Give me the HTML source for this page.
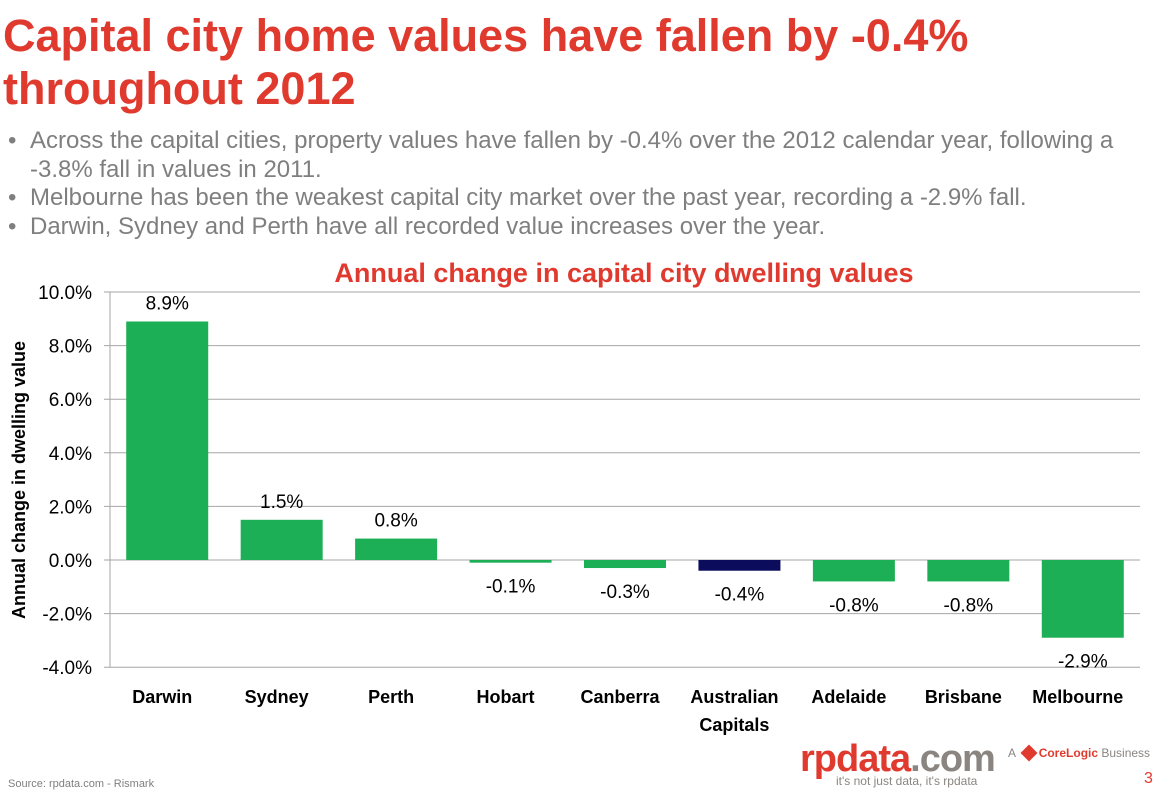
<!DOCTYPE html>
<html><head><meta charset="utf-8"><style>
body{margin:0;width:1163px;height:793px;background:#fff;font-family:"Liberation Sans",sans-serif;position:relative;overflow:hidden}
.t{position:absolute;left:3px;top:9px;color:#e03a2f;font-size:45px;font-weight:bold;line-height:53px}
ul{position:absolute;left:8px;top:127px;margin:0;padding:0;list-style:none;color:#7f7f7f;font-size:24px;line-height:28.5px}
li{padding-left:22px;position:relative}li:before{content:"•";position:absolute;left:0}
</style></head><body>
<div class="t">Capital city home values have fallen by -0.4%<br>throughout 2012</div>
<ul>
<li>Across the capital cities, property values have fallen by -0.4% over the 2012 calendar year, following a<br>-3.8% fall in values in 2011.</li>
<li>Melbourne has been the weakest capital city market over the past year, recording a -2.9% fall.</li>
<li>Darwin, Sydney and Perth have all recorded value increases over the year.</li>
</ul>
<svg id="c" width="1163" height="793" style="position:absolute;left:0;top:0"></svg>
<div style="position:absolute;left:8px;top:778px;font-size:11px;color:#7f7f7f">Source:  rpdata.com - Rismark</div>
<div style="position:absolute;left:800px;top:738px;font-size:38px;font-weight:bold;color:#e03a2f;letter-spacing:-1px">rpdata<span style="color:#8a8580">.com</span></div>
<div style="position:absolute;left:836px;top:774px;font-size:12px;color:#8a8580">it's not just data, it's rpdata</div>
<div style="position:absolute;left:1008px;top:746px;font-size:12px;color:#8a8580">A <span style="display:inline-block;width:12px;height:12px;background:#e03a2f;transform:rotate(45deg);vertical-align:-2px;margin:0 4px"></span><b style="color:#e03a2f">CoreLogic</b> Business</div>
<div style="position:absolute;left:1144px;top:770px;font-size:16px;color:#e03a2f">3</div>
<script>
const categories=["Darwin","Sydney","Perth","Hobart","Canberra","Australian|Capitals","Adelaide","Brisbane","Melbourne"];
const values=[8.9,1.5,0.8,-0.1,-0.3,-0.4,-0.8,-0.8,-2.9];
const labels=["8.9%","1.5%","0.8%","-0.1%","-0.3%","-0.4%","-0.8%","-0.8%","-2.9%"];
const ticks=[10,8,6,4,2,0,-2,-4];
const tickLabels=["10.0%","8.0%","6.0%","4.0%","2.0%","0.0%","-2.0%","-4.0%"];
const svg=document.getElementById('c'),NS="http://www.w3.org/2000/svg";
const L=110,R=1140,y=v=>560-v*26.8,bw=(R-L)/categories.length;
function mk(t,a,txt){const e=document.createElementNS(NS,t);for(const k in a)e.setAttribute(k,a[k]);if(txt!=null)e.textContent=txt;svg.appendChild(e);return e;}
let e=mk('text',{x:624,y:282,'text-anchor':'middle','font-size':27,'font-weight':'bold',fill:'#e03a2f'},'Annual change in capital city dwelling values');


ticks.forEach((t,i)=>{
 let g=mk('line',{x1:L-6,x2:R,y1:y(t),y2:y(t),stroke:'#a6a6a6','stroke-width':1});
 
 
 let tl=mk('text',{x:L-18,y:y(t)+7,'text-anchor':'end','font-size':19,fill:'#000'},tickLabels[i]);
 
 
});
let ax=mk('line',{x1:L,x2:L,y1:y(10),y2:y(-4),stroke:'#a6a6a6'});


categories.forEach((c,i)=>{
 const cx=L+bw*(i+0.5),v=values[i];
 let b=mk('rect',{x:cx-41,width:82,y:Math.min(y(v),y(0)),height:Math.abs(y(v)-y(0)),fill:c.startsWith('Australian')?'#0c0c5c':'#1daf55'});
 
 
 let lb=mk('text',{x:cx,y:v>=0?y(v)-12:y(v)+30,'text-anchor':'middle','font-size':19,fill:'#000'},labels[i]);
 
 
 c.split('|').forEach((p,j)=>{
  let t=mk('text',{x:cx-5,y:703+j*28,'text-anchor':'middle','font-size':18,'font-weight':'bold',fill:'#000'},p);
  
  
 });
});
let yt=mk('text',{x:0,y:0,transform:'translate(25,480) rotate(-90)','text-anchor':'middle','font-size':18,'font-weight':'bold',fill:'#000'},'Annual change in dwelling value');


</script>
</body></html>
